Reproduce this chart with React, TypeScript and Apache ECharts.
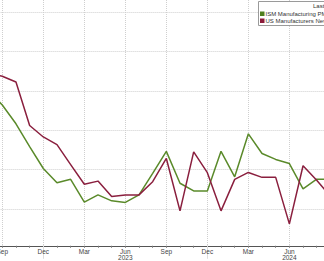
import React, { useEffect, useRef } from "react";
import * as echarts from "echarts";

const categories = [
  "2022-08", "2022-09", "2022-10", "2022-11", "2022-12",
  "2023-01", "2023-02", "2023-03", "2023-04", "2023-05", "2023-06", "2023-07", "2023-08", "2023-09", "2023-10", "2023-11", "2023-12",
  "2024-01", "2024-02", "2024-03", "2024-04", "2024-05", "2024-06", "2024-07", "2024-08", "2024-09",
];

const monthNames = ["Jan", "Feb", "Mar", "Apr", "May", "Jun", "Jul", "Aug", "Sep", "Oct", "Nov", "Dec"];

const ismPmi = [
  50.0, 49.28, 48.33, 47.17, 46.06,
  45.34, 45.51, 44.35, 44.72, 44.42, 44.34, 44.72, 45.81, 46.93, 45.31, 44.92, 44.92,
  46.93, 45.64, 47.82, 46.82, 46.52, 46.31, 45.03, 45.52, 45.52,
];

const newOrders = [
  50.89, 50.74, 50.45, 48.24, 47.66,
  47.27, 46.26, 45.26, 45.42, 44.64, 44.72, 44.72, 45.39, 46.57, 43.91, 46.9, 45.85,
  43.91, 45.51, 45.86, 45.61, 45.61, 43.25, 46.2, 45.46, 44.65,
];

const gridValues = [44, 46, 48, 50, 52, 54];

const legendNames = ["ISM Manufacturing PMI", "US Manufacturers New Orders"];

const GREEN = "#5a8a2a";
const RED = "#8a1f3e";

const monthOf = (c: string) => parseInt(c.split("-")[1], 10);
const isQuarter = (idx: number) => [3, 6, 9, 12].includes(monthOf(categories[idx]));
const isDec = (idx: number) => monthOf(categories[idx]) === 12;

const OFF = 20;
const W = 324 + 2 * OFF;

export default function App() {
  const ref = useRef<HTMLDivElement>(null);
  useEffect(() => {
    if (!ref.current) return;
    const chart = echarts.init(ref.current, null, { renderer: "svg" });
    const step = 13.67;
    const left = OFF + 2.3 - step;
    const right = W - (left + step * (categories.length - 1));
    chart.setOption({
      animation: false,
      backgroundColor: "#ffffff",
      grid: { left, right, top: 0, bottom: 13, containLabel: false },
      xAxis: [
        {
          type: "category",
          data: categories,
          boundaryGap: false,
          axisLine: { onZero: false, lineStyle: { color: "#555", width: 1 } },
          axisTick: { show: true, interval: 0, length: 2, lineStyle: { color: "#777" } },
          axisLabel: {
            interval: (i: number) => isQuarter(i) && i < categories.length - 1,
            formatter: (v: string) => {
              const [y, m] = v.split("-");
              const mm = parseInt(m, 10);
              const name = monthNames[mm - 1];
              return mm === 6 ? name + "\n" + y : name;
            },
            fontSize: 6.5,
            lineHeight: 6.5,
            margin: 2,
            color: "#444",
            fontFamily: "Liberation Sans",
          },
          splitLine: {
            show: true,
            interval: (i: number) => isQuarter(i),
            lineStyle: { color: "#cfcfcf", type: "dotted", width: 1 },
          },
        },
        {
          type: "category",
          data: categories,
          boundaryGap: false,
          position: "bottom",
          axisLine: { show: false, onZero: false },
          axisTick: { show: true, interval: (i: number) => isDec(i), length: 13, lineStyle: { color: "#ddd" } },
          axisLabel: { show: false },
          splitLine: { show: false },
        },
      ],
      yAxis: {
        type: "value",
        min: 42.14,
        max: 54.61,
        show: false,
        splitLine: { show: false },
      },
      series: [
        {
          name: legendNames[0],
          type: "line",
          data: ismPmi,
          symbol: "none",
          lineStyle: { color: GREEN, width: 1.5 },
          z: 3,
          markLine: {
            silent: true,
            symbol: ["none", "none"],
            label: { show: false },
            lineStyle: { color: "#cfcfcf", type: "dotted", width: 1 },
            data: gridValues.map((v) => ({ yAxis: v })),
            z: 1,
          },
        },
        {
          name: legendNames[1],
          type: "line",
          data: newOrders,
          symbol: "none",
          lineStyle: { color: RED, width: 1.5 },
          z: 4,
        },
      ],
      graphic: [
        {
          type: "rect",
          shape: { x: OFF + 258.5, y: 1.5, width: 80, height: 24 },
          style: { fill: "#ffffff", stroke: "#9a9a9a", lineWidth: 1 },
          z: 10,
        },
        {
          type: "text",
          x: OFF + 313,
          y: 6,
          style: { text: "Last", fontSize: 6, fill: "#333", verticalAlign: "middle", fontFamily: "Liberation Sans" },
          z: 11,
        },
        {
          type: "rect",
          shape: { x: OFF + 260, y: 11.5, width: 4.5, height: 4.5 },
          style: { fill: "#4e7f1e" },
          z: 11,
        },
        {
          type: "text",
          x: OFF + 265.5,
          y: 14,
          style: { text: legendNames[0], fontSize: 6, fill: "#333", verticalAlign: "middle", fontFamily: "Liberation Sans" },
          z: 11,
        },
        {
          type: "rect",
          shape: { x: OFF + 260, y: 18.5, width: 4.5, height: 4.5 },
          style: { fill: "#8b1a3a" },
          z: 11,
        },
        {
          type: "text",
          x: OFF + 265.5,
          y: 21,
          style: { text: legendNames[1], fontSize: 6, fill: "#333", verticalAlign: "middle", fontFamily: "Liberation Sans" },
          z: 11,
        },
      ],
    });
    return () => chart.dispose();
  }, []);
  return <div ref={ref} style={{ position: "absolute", left: -OFF, top: 0, width: W, height: 261 }} />;
}
